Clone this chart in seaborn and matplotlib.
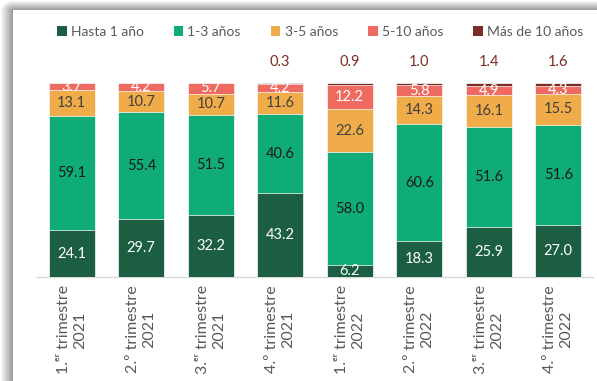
import numpy as np
import pandas as pd
import matplotlib
matplotlib.use("Agg")
import matplotlib.pyplot as plt
import seaborn as sns
from matplotlib.patches import Patch

# Distribución por plazo (%)
periodos = ["1.ᵉʳ trimestre\n2021", "2.º trimestre\n2021", "3.ᵉʳ trimestre\n2021", "4.º trimestre\n2021",
            "1.ᵉʳ trimestre\n2022", "2.º trimestre\n2022", "3.ᵉʳ trimestre\n2022", "4.º trimestre\n2022"]
series = ["Hasta 1 año", "1-3 años", "3-5 años", "5-10 años", "Más de 10 años"]
hasta_1 = [24.1, 29.7, 32.2, 43.2, 6.2, 18.3, 25.9, 27.0]
de_1_a_3 = [59.1, 55.4, 51.5, 40.6, 58.0, 60.6, 51.6, 51.6]
de_3_a_5 = [13.1, 10.7, 10.7, 11.6, 22.6, 14.3, 16.1, 15.5]
de_5_a_10 = [3.7, 4.2, 5.7, 4.2, 12.2, 5.8, 4.9, 4.3]
mas_de_10 = [0.0, 0.0, 0.0, 0.3, 0.9, 1.0, 1.4, 1.6]

colores = ["#1b5e42", "#10ac78", "#f0ac48", "#ef6a60", "#7a2c25"]
col_etiqueta = ["white", "#1a1a1a", "#404040", "white", "#7a2c25"]

valores = [hasta_1, de_1_a_3, de_3_a_5, de_5_a_10, mas_de_10]
df = pd.DataFrame({s: v for s, v in zip(series, valores)}, index=periodos)
acum = df.cumsum(axis=1)

sns.set_theme(style="white")
plt.rcParams["font.family"] = ["Lato", "DejaVu Sans"]

W, H = 597, 381
fig = plt.figure(figsize=(W / 100, H / 100), dpi=100)

# marco con sombra del panel
yy, xx = np.mgrid[0:H, 0:W]
dx = np.clip(13 - xx, 0, None) / 13.0
dy = np.clip(10 - yy, 0, None) / 10.0
d = np.sqrt(dx ** 2 + dy ** 2)
v = np.where(d > 0, 0.58 + 0.42 * np.clip(d, 0, 1), 1.0)
fondo = np.dstack([v, v, v])
fig.figimage(fondo, xo=0, yo=0, origin="upper", zorder=0)

ax = fig.add_axes([37 / W, (H - 277) / H, 556 / W, 194 / H])
ax.set_zorder(2)
ax.set_facecolor("none")

# barras apiladas: se dibuja cada acumulado de mayor a menor
for i in range(len(series) - 1, -1, -1):
    sns.barplot(x=list(range(len(periodos))), y=acum[series[i]].values, color=colores[i],
                saturation=1, width=0.66, edgecolor="white", linewidth=0.5,
                ax=ax, zorder=2 + (len(series) - i))

ax.set_xlim(-0.5, len(periodos) - 0.5)
ax.set_ylim(0, 100)
ax.set_yticks([])
ax.set_ylabel("")
for s in ["left", "right", "top"]:
    ax.spines[s].set_visible(False)
ax.spines["bottom"].set_color("#d9d9d9")
ax.spines["bottom"].set_linewidth(1.0)
ax.set_xticks(range(len(periodos)))
ax.set_xticklabels(periodos, rotation=90, ha="center", va="top", multialignment="center",
                   color="#595959", fontsize=11.5)
ax.tick_params(axis="x", length=0, pad=6)

# etiquetas de valores
for j in range(len(periodos)):
    base = 0.0
    for i, s in enumerate(series):
        val = df[s].iloc[j]
        if i < 4:
            ax.text(j, base + val / 2, f"{val:.1f}", ha="center", va="center",
                    color=col_etiqueta[i], fontsize=10.5, zorder=10)
        elif val > 0:
            ax.annotate(f"{val:.1f}", xy=(j, base + val), xytext=(0, 10), textcoords="offset points",
                        ha="center", va="bottom", color=col_etiqueta[i], fontsize=10.5,
                        annotation_clip=False, zorder=10)
        base += val

handles = [Patch(facecolor=c, edgecolor="none") for c in colores]
fig.legend(handles, series, loc="center", bbox_to_anchor=(320 / W, 1 - 32 / H), ncol=5,
           frameon=False, fontsize=10, handlelength=0.7, handleheight=0.7, handletextpad=0.3,
           columnspacing=2.15, labelcolor="#595959")

fig.savefig("out.png", dpi=100)
